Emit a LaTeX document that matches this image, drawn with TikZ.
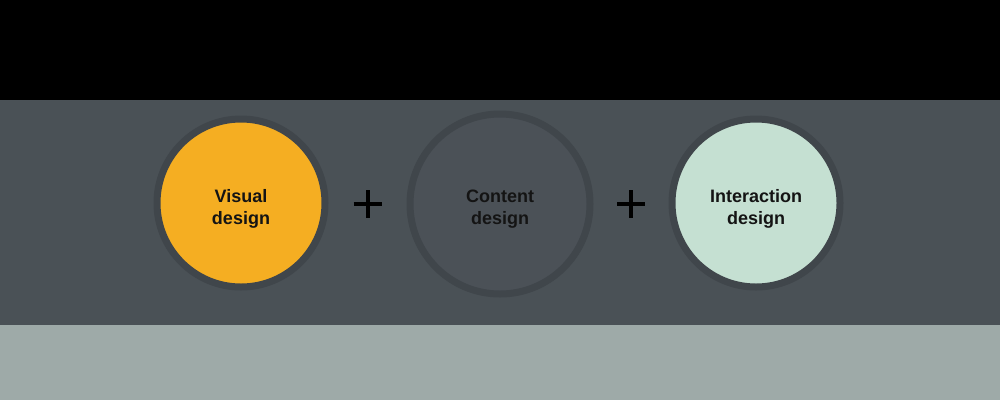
\documentclass[tikz,border=0pt]{standalone}
\usepackage{fontspec}
\setmainfont{Liberation Sans}
\usetikzlibrary{calc}
\definecolor{ring}{HTML}{40464B}
\definecolor{orangefill}{HTML}{F5AE22}
\definecolor{greyfill}{HTML}{4B5157}
\definecolor{mintfill}{HTML}{C5E0D2}
\definecolor{bgmid}{HTML}{4A5156}
\definecolor{bglow}{HTML}{9EAAA8}
\definecolor{txt}{HTML}{141414}
\tikzset{
  bubble/.style={circle, draw=ring, line width=7pt, minimum size=168pt, inner sep=0pt},
  caption/.style={align=center, font=\fontsize{18}{22}\selectfont\bfseries, text=txt, inner sep=0pt},
  plusbar/.style={line width=4pt, draw=black}
}
\begin{document}
\begin{tikzpicture}[x=1pt,y=-1pt]
\useasboundingbox (0,0) rectangle (1000,400);
\fill[black] (0,0) rectangle (1000,100);
\fill[bgmid] (0,100) rectangle (1000,325);
\fill[bglow] (0,325) rectangle (1000,400);
\node[bubble, fill=orangefill] (visual) at (241,203) {};
\node[bubble, fill=greyfill, minimum size=180pt] (content) at (500,204) {};
\node[bubble, fill=mintfill] (interaction) at (756,203) {};
\node[caption] (visualtxt) at ([yshift=-6pt]visual.center) {Visual\\design};
\node[caption] (contenttxt) at ([yshift=-5pt]content.center) {Content\\design};
\node[caption] (interactiontxt) at ([yshift=-6pt]interaction.center) {Interaction\\design};
\coordinate (p1) at ($(visual.east)!0.5!(content.west)$);
\coordinate (p2) at ($(content.east)!0.5!(interaction.west)$);
\draw[plusbar] ([xshift=-14pt]p1) -- ([xshift=14pt]p1);
\draw[plusbar] ([yshift=-14pt]p1) -- ([yshift=14pt]p1);
\draw[plusbar] ([xshift=-14pt]p2) -- ([xshift=14pt]p2);
\draw[plusbar] ([yshift=-14pt]p2) -- ([yshift=14pt]p2);
\end{tikzpicture}
\end{document}
